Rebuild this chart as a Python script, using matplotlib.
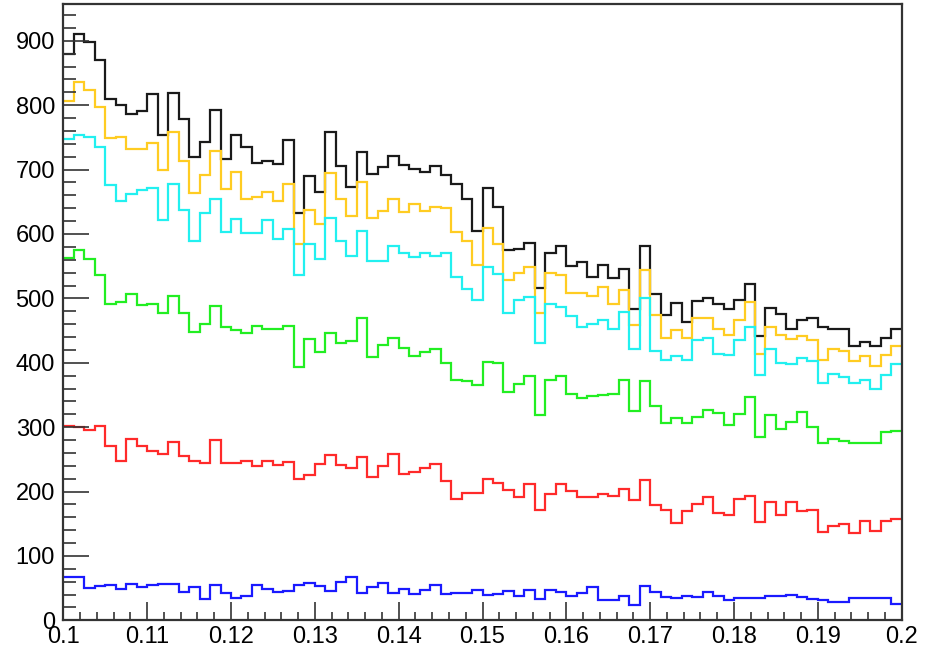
import numpy as np
import matplotlib
matplotlib.use("Agg")
import matplotlib.pyplot as plt
from matplotlib.ticker import MultipleLocator

plt.rcParams['font.family'] = ['Liberation Sans', 'DejaVu Sans']

x_min, x_max, n_bins = 0.1, 0.2, 80

total_black = [880, 911, 898, 870, 810, 801, 786, 791, 818, 753,
               819, 778, 719, 743, 792, 717, 753, 735, 711, 714,
               709, 746, 633, 690, 666, 759, 706, 673, 727, 693,
               704, 721, 707, 701, 696, 706, 692, 677, 655, 604,
               672, 642, 575, 576, 586, 516, 571, 582, 550, 556,
               533, 552, 532, 545, 483, 582, 507, 474, 493, 464,
               496, 501, 491, 483, 498, 522, 441, 485, 476, 453,
               466, 470, 456, 452, 452, 426, 433, 426, 438, 453]

stack_yellow = [807, 836, 823, 797, 749, 750, 732, 732, 742, 699,
                759, 713, 663, 692, 729, 670, 696, 655, 658, 665,
                652, 678, 585, 637, 616, 695, 654, 628, 680, 625,
                635, 654, 634, 646, 636, 642, 640, 603, 589, 552,
                609, 585, 528, 540, 548, 477, 539, 537, 509, 509,
                503, 518, 491, 513, 459, 544, 474, 438, 451, 438,
                470, 470, 453, 443, 466, 494, 414, 455, 443, 437,
                441, 435, 405, 422, 419, 402, 411, 395, 412, 426]

stack_cyan = [748, 754, 750, 735, 676, 652, 662, 668, 671, 621,
              678, 637, 589, 633, 654, 603, 624, 601, 601, 622,
              592, 607, 537, 584, 561, 625, 589, 566, 605, 558,
              558, 582, 571, 564, 570, 566, 570, 533, 515, 498,
              548, 538, 478, 498, 502, 430, 492, 486, 473, 456,
              460, 467, 452, 479, 422, 500, 419, 404, 410, 404,
              435, 438, 414, 412, 435, 455, 381, 422, 400, 398,
              408, 402, 368, 382, 378, 369, 374, 359, 381, 398]

stack_green = [562, 575, 561, 536, 492, 494, 507, 490, 492, 477,
               503, 477, 448, 460, 488, 456, 451, 446, 457, 453,
               453, 457, 394, 437, 417, 447, 431, 434, 469, 409,
               427, 438, 423, 410, 416, 421, 400, 373, 371, 365,
               401, 400, 355, 367, 379, 319, 373, 379, 351, 346,
               348, 350, 352, 373, 325, 371, 333, 307, 314, 306,
               315, 327, 322, 304, 321, 347, 284, 319, 297, 308,
               323, 300, 276, 281, 279, 275, 275, 276, 292, 294]

stack_red = [302, 300, 296, 302, 271, 247, 282, 270, 263, 258,
             277, 255, 248, 244, 280, 244, 244, 248, 239, 248,
             241, 246, 220, 226, 242, 256, 241, 237, 253, 223,
             239, 258, 227, 230, 236, 242, 217, 189, 197, 197,
             220, 213, 203, 191, 212, 171, 196, 212, 201, 191,
             191, 196, 193, 204, 187, 218, 179, 172, 151, 169,
             181, 191, 167, 164, 189, 193, 152, 183, 164, 183,
             169, 171, 137, 146, 150, 136, 154, 139, 154, 158]

stack_blue = [67, 67, 50, 53, 55, 48, 56, 51, 55, 56,
              56, 44, 52, 33, 55, 43, 34, 38, 55, 49,
              44, 45, 55, 58, 53, 46, 59, 68, 43, 51,
              58, 43, 49, 41, 47, 55, 41, 43, 42, 47,
              39, 41, 46, 38, 47, 33, 47, 44, 37, 42,
              51, 32, 32, 38, 24, 53, 44, 36, 35, 37,
              36, 44, 37, 32, 35, 35, 35, 37, 37, 39,
              36, 33, 31, 28, 28, 35, 35, 35, 35, 25]

x_tick_labels = ['0.1', '0.11', '0.12', '0.13', '0.14', '0.15', '0.16', '0.17', '0.18', '0.19', '0.2']

series = [
    (total_black, '#1a1a1a'),
    (stack_yellow, '#ffcc22'),
    (stack_cyan, '#22f0f0'),
    (stack_green, '#22ee22'),
    (stack_red, '#ff2a2a'),
    (stack_blue, '#1a1aff'),
]

fig = plt.figure(figsize=(9.27, 6.57), dpi=100)
ax = fig.add_axes([63.3 / 927, (657 - 620.3) / 657, (901.7 - 63.3) / 927, (620.3 - 3.5) / 657])

edges = np.linspace(x_min, x_max, n_bins + 1)
for vals, col in series:
    ax.stairs(vals, edges, color=col, linewidth=1.6, baseline=None)

ax.set_xlim(x_min, x_max)
ax.set_ylim(0, 958)

ax.set_xticks(np.linspace(x_min, x_max, len(x_tick_labels)))
ax.set_xticklabels(x_tick_labels)
ax.xaxis.set_minor_locator(MultipleLocator(0.002))
ax.yaxis.set_major_locator(MultipleLocator(100))
ax.yaxis.set_minor_locator(MultipleLocator(20))

ax.tick_params(axis='x', which='major', direction='in', length=13, width=1.2, pad=4,
               labelsize=17, color='#333333', top=False)
ax.tick_params(axis='x', which='minor', direction='in', length=6, width=1.2, color='#333333', top=False)
ax.tick_params(axis='y', which='major', direction='in', length=19, width=1.2, pad=6,
               labelsize=17, color='#333333', right=False)
ax.tick_params(axis='y', which='minor', direction='in', length=9.5, width=1.2, color='#333333', right=False)

for sp in ax.spines.values():
    sp.set_linewidth(1.6)
    sp.set_color('#333333')

fig.savefig('out.png', dpi=100)
